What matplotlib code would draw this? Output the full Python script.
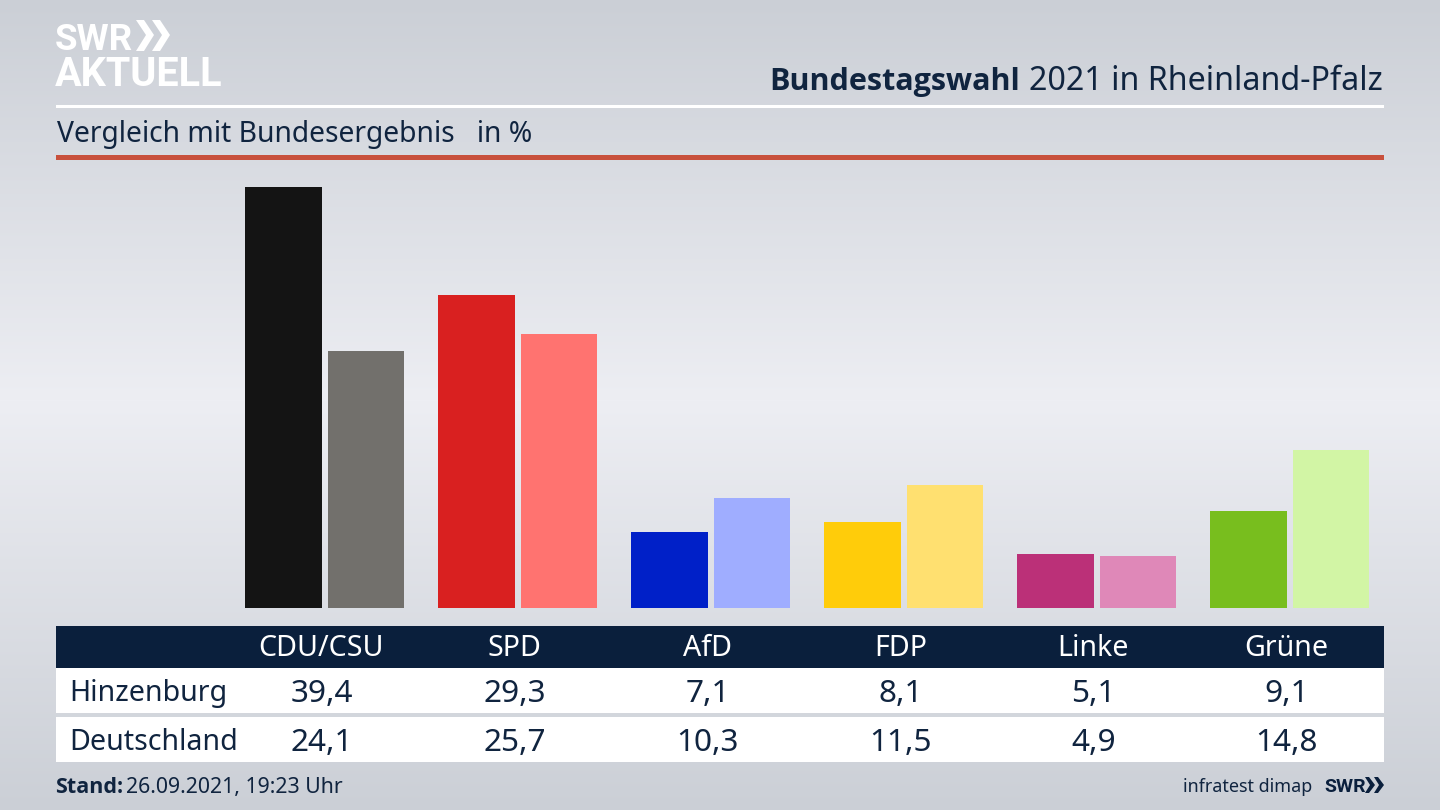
import numpy as np
import matplotlib
matplotlib.use("Agg")
import matplotlib.pyplot as plt
from matplotlib.patches import Rectangle, Polygon

parties = ["CDU/CSU", "SPD", "AfD", "FDP", "Linke", "Grüne"]
regions = ["Hinzenburg", "Deutschland"]
hinzenburg = [39.4, 29.3, 7.1, 8.1, 5.1, 9.1]
deutschland = [24.1, 25.7, 10.3, 11.5, 4.9, 14.8]
hinz_labels = ["39,4", "29,3", "7,1", "8,1", "5,1", "9,1"]
deut_labels = ["24,1", "25,7", "10,3", "11,5", "4,9", "14,8"]
dark_colors = ["#141414", "#d92020", "#0020c8", "#ffcc0a", "#bb3078", "#78be1e"]
light_colors = ["#72706c", "#ff7370", "#9fadff", "#ffe070", "#df88b8", "#d2f5a5"]

W, H = 1440, 810
plt.rcParams['font.family'] = ['Noto Sans', 'DejaVu Sans']
fig = plt.figure(figsize=(W/100, H/100), dpi=100)

bg = fig.add_axes([0, 0, 1, 1], zorder=0)
stops_y = np.array([0, 400, 810])
grad = np.interp(np.arange(H), stops_y, [0, 1, 0])[:, None]
c0 = np.array([0xcb, 0xcf, 0xd6]) / 255
c1 = np.array([0xed, 0xee, 0xf3]) / 255
bg.imshow(c0 + grad[..., None] * (c1 - c0), extent=[0, W, H, 0], aspect='auto')
bg.set_xlim(0, W); bg.set_ylim(H, 0); bg.axis('off')

navy = "#0a1f3c"
txt = "#10243f"
bg.add_patch(Rectangle((56, 104.5), 1327.5, 3, lw=0, color="white"))
bg.add_patch(Rectangle((56, 155), 1327.5, 5, lw=0, color="#c8503c"))
bg.add_patch(Rectangle((56, 626), 1327.5, 42, lw=0, color=navy))
bg.add_patch(Rectangle((56, 668), 1327.5, 45, lw=0, color="white"))
bg.add_patch(Rectangle((56, 717), 1327.5, 45, lw=0, color="white"))

bg.text(55, 50, "SWR", fontsize=26.5, fontweight='bold', color='white', family='Roboto', va='baseline')
bg.text(55, 86, "AKTUELL", fontsize=28.5, fontweight='bold', color='white', family='Roboto', va='baseline')
for x0 in (136, 152):
    bg.add_patch(Polygon([(x0, 20), (x0+8, 20), (x0+18, 35), (x0+8, 51), (x0, 51), (x0+10, 35)], lw=0, color='white'))
for x0 in (1365, 1374):
    bg.add_patch(Polygon([(x0, 777), (x0+4, 777), (x0+10, 785), (x0+4, 793), (x0, 793), (x0+5, 785)], lw=0, color=navy))

bold_family = 'Open Sans'
t = bg.text(1383, 90, "2021 in Rheinland-Pfalz", fontsize=23.2, color=txt, ha='right', va='baseline')
fig.canvas.draw()
ext = t.get_window_extent()
bg.text(ext.x0 - 9, 90, "Bundestagswahl", fontsize=22.0, fontweight='bold', family=bold_family, color=txt, ha='right', va='baseline')
bg.text(57, 142, "Vergleich mit Bundesergebnis   in %", fontsize=20.35, color=txt, va='baseline')

ax = fig.add_axes([0, (H-608)/H, 1, (608-187.5)/H], zorder=1)
ax.patch.set_alpha(0)
centers = np.arange(6) * 193.0 + 324.5
ax.bar(centers - 41, hinzenburg, width=77, color=dark_colors, lw=0)
ax.bar(centers + 41.5, deutschland, width=76.5, color=light_colors, lw=0)
ax.set_xlim(0, W); ax.set_ylim(0, 39.4); ax.axis('off')

for i, p in enumerate(parties):
    cx = 321.5 + i * 193
    bg.text(cx, 656, p, fontsize=20.6, color='white', ha='center', va='baseline')
    bg.text(cx, 702, hinz_labels[i], fontsize=22.7, color=txt, ha='center', va='baseline')
    bg.text(cx, 751, deut_labels[i], fontsize=22.7, color=txt, ha='center', va='baseline')
bg.text(69, 701, regions[0], fontsize=20.6, color=txt, va='baseline')
bg.text(69, 750, regions[1], fontsize=20.6, color=txt, va='baseline')

bg.text(55.5, 793, "Stand:", fontsize=15.5, fontweight='bold', family=bold_family, color=txt, va='baseline')
bg.text(126.5, 793, "26.09.2021, 19:23 Uhr", fontsize=15.3, color=txt, va='baseline')
bg.text(1312, 792, "infratest dimap", fontsize=12.9, color=txt, ha='right', va='baseline')
bg.text(1324, 792, "SWR", fontsize=14, fontweight='bold', color=navy, family='Roboto', va='baseline')

fig.savefig("out.png", dpi=100)
